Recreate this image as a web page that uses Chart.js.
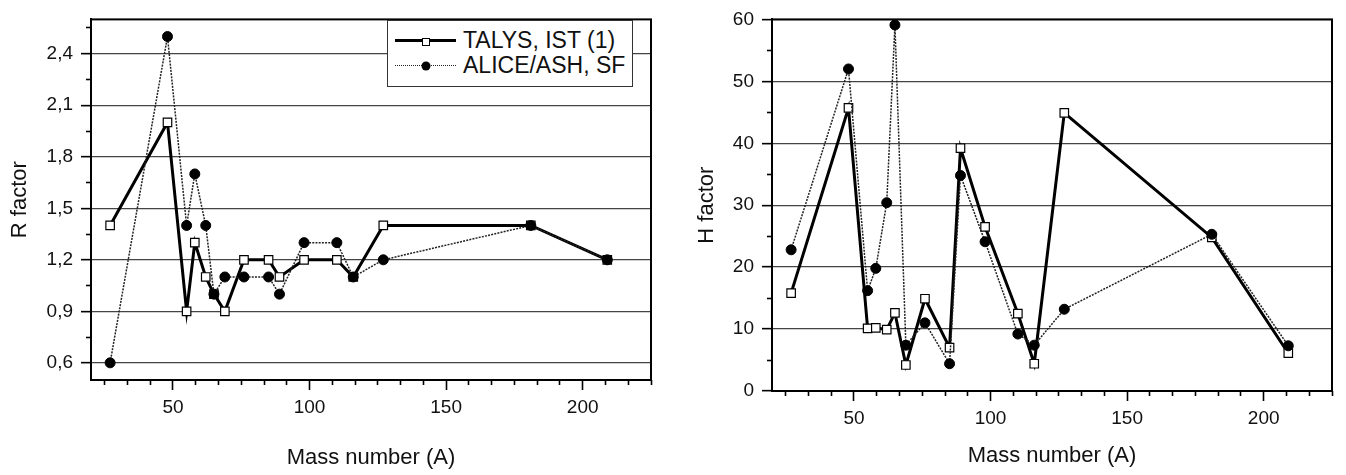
<!DOCTYPE html>
<html>
<head>
<meta charset="utf-8">
<script src="https://cdn.jsdelivr.net/npm/chart.js@4.4.1/dist/chart.umd.min.js"></script>
<style>
  html, body { margin: 0; padding: 0; background: #fff; }
  #wrap { position: relative; width: 1346px; height: 475px; font-family: "Liberation Sans", Arial, sans-serif; }
  .panel { position: absolute; top: 0; width: 673px; height: 475px; }
  #legend { position: absolute; left: 387px; top: 20px; width: 244px; height: 58px; border: 1.5px solid #333;
            background: #fff; padding-top: 7px; box-sizing: content-box; }
  .row { height: 25px; display: flex; align-items: center; padding-left: 7px; }
  .sample { position: relative; width: 61px; height: 0; margin-right: 7px; }
  .mk { position: absolute; left: 50%; top: 0; transform: translate(-50%, -50%); box-sizing: border-box; }
  .tx { font-size: 23px; color: #111; white-space: nowrap; }
</style>
</head>
<body>
<div id="wrap">
  <div class="panel" style="left:0"><canvas id="rChart"></canvas></div>
  <div class="panel" style="left:673px"><canvas id="hChart"></canvas></div>
  <div id="legend"></div>
</div>
<script>
// mass numbers of the targets (same for both panels)
const massNumbers = [27, 48, 55, 58, 62, 65, 69, 76, 85, 89, 98, 110, 116, 127, 181, 209];
const seriesNames = ['TALYS, IST (1)', 'ALICE/ASH, SF'];

// left panel: R factor
const rTalys = [1.4, 2.0, 0.9, 1.3, 1.1, 1.0, 0.9, 1.2, 1.2, 1.1, 1.2, 1.2, 1.1, 1.4, 1.4, 1.2];
const rAlice = [0.6, 2.5, 1.4, 1.7, 1.4, 1.0, 1.1, 1.1, 1.1, 1.0, 1.3, 1.3, 1.1, 1.2, 1.4, 1.2];

// right panel: H factor
const hTalys = [15.8, 45.7, 10.1, 10.2, 9.9, 12.6, 4.2, 14.9, 7.0, 39.2, 26.5, 12.5, 4.4, 44.9, 24.8, 6.1];
const hAlice = [22.8, 52.0, 16.2, 19.8, 30.4, 59.1, 7.4, 11.0, 4.4, 34.8, 24.1, 9.2, 7.4, 13.2, 25.3, 7.3];

// tick labels
const massTicks = [50, 100, 150, 200];
const rTicks = [0.6, 0.9, 1.2, 1.5, 1.8, 2.1, 2.4];
const rMinor = [0.75, 1.05, 1.35, 1.65, 1.95, 2.25, 2.55];
const hTicks = [0, 10, 20, 30, 40, 50, 60];
const hMinor = [5, 15, 25, 35, 45, 55];

// minor x ticks: 5 between majors, like Origin does
const massMinor = [];
for (let k = 0; k <= 24; k++) {
  const v = 25 + k * 50 / 6;
  if (Math.abs(v % 50) > 0.01 && v <= 225.01) massMinor.push(v);
}

const FONT = '"Liberation Sans", Arial, sans-serif';
Chart.defaults.font.family = FONT;
Chart.defaults.color = '#111';

const setTicks = list => scale => { scale.ticks = list.map(v => ({ value: v })); };

// box round the plot area
const frame = {
  id: 'frame',
  afterDraw(chart) {
    const { ctx, chartArea: a } = chart;
    ctx.save();
    ctx.strokeStyle = '#000';
    ctx.lineWidth = 2;
    ctx.strokeRect(a.left, a.top, a.right - a.left, a.bottom - a.top);
    ctx.restore();
  }
};

function makeDatasets(talys, alice) {
  return [{
    label: seriesNames[0],
    data: massNumbers.map((a, i) => ({ x: a, y: talys[i] })),
    order: 1,
    borderColor: '#000',
    borderWidth: 3,
    pointStyle: 'rect',
    pointRadius: 6,
    pointBackgroundColor: '#fff',
    pointBorderColor: '#000',
    pointBorderWidth: 1.2
  }, {
    label: seriesNames[1],
    data: massNumbers.map((a, i) => ({ x: a, y: alice[i] })),
    order: 0, // circles sit on top of the squares
    borderColor: '#222',
    borderWidth: 1.5,
    borderDash: [2, 1.2],
    pointStyle: 'circle',
    pointRadius: 5,
    pointBackgroundColor: '#000',
    pointBorderColor: '#000',
    pointBorderWidth: 1
  }];
}

function makeScales(o) {
  return {
    x: {
      type: 'linear', position: 'bottom', weight: 2, min: 20, max: 225,
      afterBuildTicks: setTicks(massTicks),
      afterFit: s => { s.height = o.xHeight; },
      ticks: { font: { size: 19 }, padding: 6, autoSkip: false, maxRotation: 0, callback: v => String(v) },
      grid: { drawOnChartArea: false, tickLength: 10, tickWidth: 1.6, tickColor: '#000' },
      border: { color: '#000', width: 2 },
      title: { display: true, text: 'Mass number (A)', font: { size: 22 }, padding: { top: 0, bottom: o.xTitlePad } }
    },
    xMinor: {
      type: 'linear', position: 'bottom', weight: 1, min: 20, max: 225, display: true,
      afterBuildTicks: setTicks(massMinor),
      afterFit: s => { s.height = 0; },
      ticks: { autoSkip: false, callback: () => '' },
      grid: { drawOnChartArea: false, tickLength: 5, tickWidth: 1.6, tickColor: '#000' },
      border: { display: false }
    },
    y: {
      type: 'linear', position: 'left', weight: 2, min: o.yMin, max: o.yMax,
      afterBuildTicks: setTicks(o.yTicks),
      afterFit: s => { s.width = o.yWidth; },
      ticks: { font: { size: 19 }, padding: 8, autoSkip: false, callback: o.yLabel },
      grid: { color: '#444', lineWidth: 1.3, tickLength: 10, tickWidth: 1.6, tickColor: '#000' },
      border: { color: '#000', width: 2 },
      title: { display: true, text: o.yTitle, font: { size: 22 }, padding: { top: o.yTitlePad, bottom: 0 } }
    },
    yMinor: {
      type: 'linear', position: 'left', weight: 1, min: o.yMin, max: o.yMax, display: true,
      afterBuildTicks: setTicks(o.yMinor),
      afterFit: s => { s.width = 0; },
      ticks: { autoSkip: false, callback: () => '' },
      grid: { drawOnChartArea: false, tickLength: 5, tickWidth: 1.6, tickColor: '#000' },
      border: { display: false }
    }
  };
}

const common = {
  responsive: true,
  maintainAspectRatio: false,
  animation: false,
  elements: { line: { tension: 0 } },
  plugins: { legend: { display: false }, tooltip: { enabled: false } }
};

const rChart = new Chart(document.getElementById('rChart'), {
  type: 'line',
  data: { datasets: makeDatasets(rTalys, rAlice) },
  options: Object.assign({}, common, {
    layout: { padding: { left: 0, top: 6, right: 22, bottom: 0 } },
    scales: makeScales({
      xHeight: 95, xTitlePad: 4,
      yMin: 0.5, yMax: 2.6, yTicks: rTicks, yMinor: rMinor, yWidth: 91, yTitlePad: 7,
      yTitle: 'R factor',
      yLabel: v => v.toFixed(1).replace('.', ',')
    })
  }),
  plugins: [frame]
});

new Chart(document.getElementById('hChart'), {
  type: 'line',
  data: { datasets: makeDatasets(hTalys, hAlice) },
  options: Object.assign({}, common, {
    layout: { padding: { left: 0, top: 17, right: 14, bottom: 0 } },
    scales: makeScales({
      xHeight: 84, xTitlePad: 6,
      yMin: 0, yMax: 60, yTicks: hTicks, yMinor: hMinor, yWidth: 99, yTitlePad: 21,
      yTitle: 'H factor',
      yLabel: v => String(v)
    })
  }),
  plugins: [frame]
});

// legend drawn as html, from the left chart's datasets
const legend = document.getElementById('legend');
rChart.data.datasets.forEach(ds => {
  const row = document.createElement('div');
  row.className = 'row';
  const sample = document.createElement('span');
  sample.className = 'sample';
  sample.style.borderTop = ds.borderDash ? '1.5px dotted #222' : ds.borderWidth + 'px solid #000';
  const mk = document.createElement('span');
  mk.className = 'mk';
  if (ds.pointStyle === 'rect') {
    mk.style.cssText += 'width:8px;height:8px;background:#fff;border:1.2px solid #000;';
  } else {
    mk.style.cssText += 'width:9px;height:9px;background:#000;border-radius:50%;';
  }
  sample.appendChild(mk);
  const tx = document.createElement('span');
  tx.className = 'tx';
  tx.textContent = ds.label;
  row.appendChild(sample);
  row.appendChild(tx);
  legend.appendChild(row);
});
</script>
</body>
</html>
